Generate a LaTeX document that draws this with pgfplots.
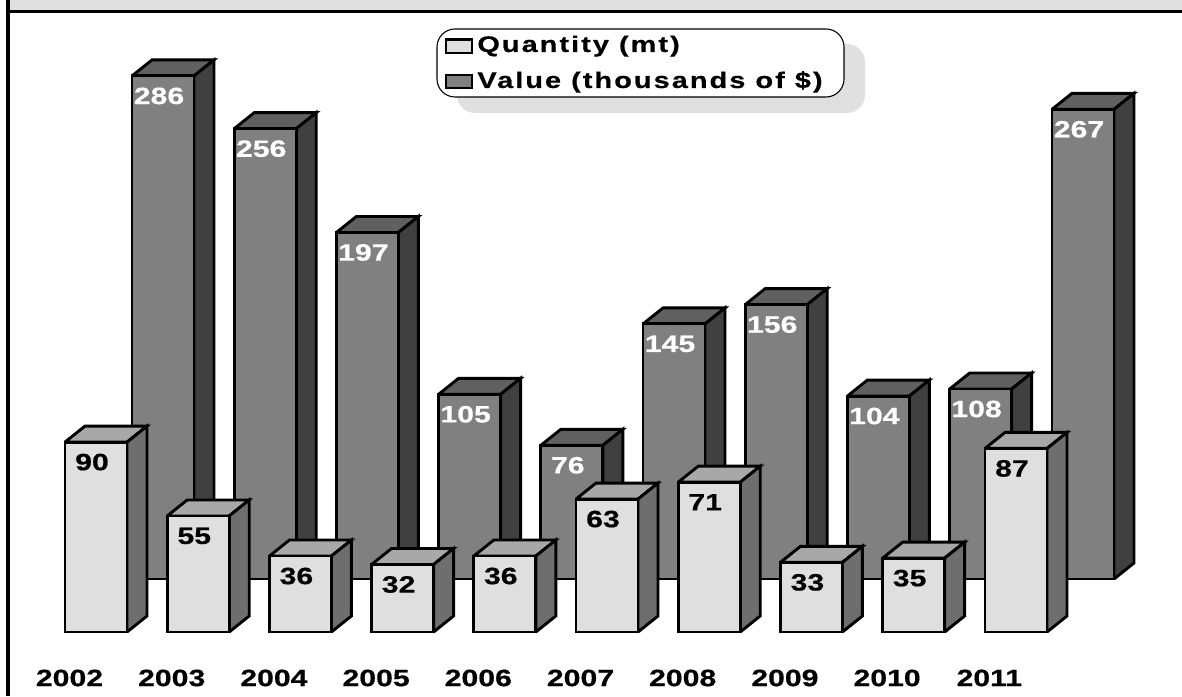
\documentclass[border=0pt]{standalone}
\usepackage{fontspec}
\setmainfont{Liberation Sans}[FakeStretch=1.28,BoldFeatures={FakeBold=0.5}]
\usepackage{pgfplots}
\usepackage{pgfplotstable}
\pgfplotsset{compat=1.18}
\definecolor{hdr}{HTML}{E0E0E0}
\definecolor{qf}{HTML}{DFDFDF}
\definecolor{qt}{HTML}{A8A8A8}
\definecolor{qs}{HTML}{6E6E6E}
\definecolor{vf}{HTML}{808080}
\definecolor{vt}{HTML}{606060}
\definecolor{vs}{HTML}{404040}
\newcommand\lab{\fontsize{11.8pt}{13pt}\selectfont\bfseries}
\newcommand\leg{\fontsize{11.3pt}{13pt}\selectfont\bfseries\addfontfeatures{LetterSpace=9}}
\pgfplotstableread{
x v
96 90
198.2 55
300.4 36
402.6 32
504.8 36
607 63
709.2 71
811.4 33
913.6 35
1016 87
}\quantity
\pgfplotstableread{
x v
163 286
265.2 256
367.4 197
469.6 105
571.8 76
674 145
776.2 156
878.4 104
980.6 108
1083 267
}\valuet
% center x (px), value, px per unit, top colour, side colour
\newcommand\Extrude[5]{%
  \pgfmathsetmacro\xl{#1-31}\pgfmathsetmacro\xr{#1+31}%
  \pgfmathsetmacro\xf{#1-11}\pgfmathsetmacro\xb{#1+51}%
  \pgfmathsetmacro\yb{#2+16/#3}\pgfmathsetmacro\yo{16/#3}%
  \addplot[fill=#4,draw=black,line width=1.45pt,forget plot,mark=none]
    coordinates {(\xl,#2)(\xf,\yb)(\xb,\yb)(\xr,#2)(\xl,#2)};
  \addplot[fill=#5,draw=black,line width=1.45pt,forget plot,mark=none]
    coordinates {(\xr,0)(\xb,\yo)(\xb,\yb)(\xr,#2)(\xr,0)};
}
\pgfplotsset{
  base/.style={scale only axis,width=591pt,height=348pt,xmin=0,xmax=1182,
    axis line style={draw=none},major tick length=0pt,ytick=\empty,xtick=\empty,clip=false},
  bars/.style={ybar,bar width=31pt,bar shift=0pt,draw=black,line width=1.45pt,
    point meta=explicit symbolic,nodes near coords={\lab\pgfplotspointmeta},
    every node near coord/.append style={anchor=center,yshift=-10pt,xshift=-2pt,inner sep=0pt}},
}
\begin{document}
\begin{tikzpicture}
\useasboundingbox (0,0) rectangle (591pt,348pt);
% frame, legend and year labels, in pixels
\begin{axis}[base,ymin=0,ymax=696,
  xtick={69.5,171.7,273.9,376.1,478.3,580.5,682.7,784.9,887.1,989.3},
  xticklabels={2002,2003,2004,2005,2006,2007,2008,2009,2010,2011},
  xticklabel style={anchor=center,yshift=9pt,font=\lab}]
\addplot[fill=hdr,draw=none,forget plot] coordinates {(10,696)(1182,696)(1182,684)(10,684)(10,696)};
\addplot[black,line width=1.5pt,forget plot] coordinates {(6,684)(1182,684)};
\addplot[black,line width=2pt,forget plot] coordinates {(8,0)(8,696)};
\fill[hdr,rounded corners=9pt] (axis cs:457,583) rectangle (axis cs:865,652);
\draw[black,fill=white,line width=0.55pt,rounded corners=9pt] (axis cs:437,599) rectangle (axis cs:844,667);
\draw[black,fill=qf,line width=1.2pt] (axis cs:446,643) rectangle (axis cs:472,656.5);
\draw[black,fill=vf,line width=1.2pt] (axis cs:446,608) rectangle (axis cs:472,621);
\node[anchor=base west,inner sep=0pt,font=\leg] at (axis cs:477,644) {Quantity (mt)};
\node[anchor=base west,inner sep=0pt,font=\leg] at (axis cs:477,608) {Value (thousands of \$)};
\end{axis}
% Value series: 1.759 px per unit, base at 117 px
\begin{axis}[base,ymin=-66.515,ymax=329.16]
\Extrude{163}{286}{1.759}{vt}{vs}
\Extrude{265.2}{256}{1.759}{vt}{vs}
\Extrude{367.4}{197}{1.759}{vt}{vs}
\Extrude{469.6}{105}{1.759}{vt}{vs}
\Extrude{571.8}{76}{1.759}{vt}{vs}
\Extrude{674}{145}{1.759}{vt}{vs}
\Extrude{776.2}{156}{1.759}{vt}{vs}
\Extrude{878.4}{104}{1.759}{vt}{vs}
\Extrude{980.6}{108}{1.759}{vt}{vs}
\Extrude{1083}{267}{1.759}{vt}{vs}
\addplot[bars,fill=vf,every node near coord/.append style={text=white}] table[x=x,y=v,meta=v] {\valuet};
\end{axis}
% Quantity series: 2.11 px per unit, base at 64 px
\begin{axis}[base,ymin=-30.33,ymax=299.53]
\Extrude{96}{90}{2.11}{qt}{qs}
\Extrude{198.2}{55}{2.11}{qt}{qs}
\Extrude{300.4}{36}{2.11}{qt}{qs}
\Extrude{402.6}{32}{2.11}{qt}{qs}
\Extrude{504.8}{36}{2.11}{qt}{qs}
\Extrude{607}{63}{2.11}{qt}{qs}
\Extrude{709.2}{71}{2.11}{qt}{qs}
\Extrude{811.4}{33}{2.11}{qt}{qs}
\Extrude{913.6}{35}{2.11}{qt}{qs}
\Extrude{1016}{87}{2.11}{qt}{qs}
\addplot[bars,fill=qf,every node near coord/.append style={text=black}] table[x=x,y=v,meta=v] {\quantity};
\end{axis}
\end{tikzpicture}
\end{document}
